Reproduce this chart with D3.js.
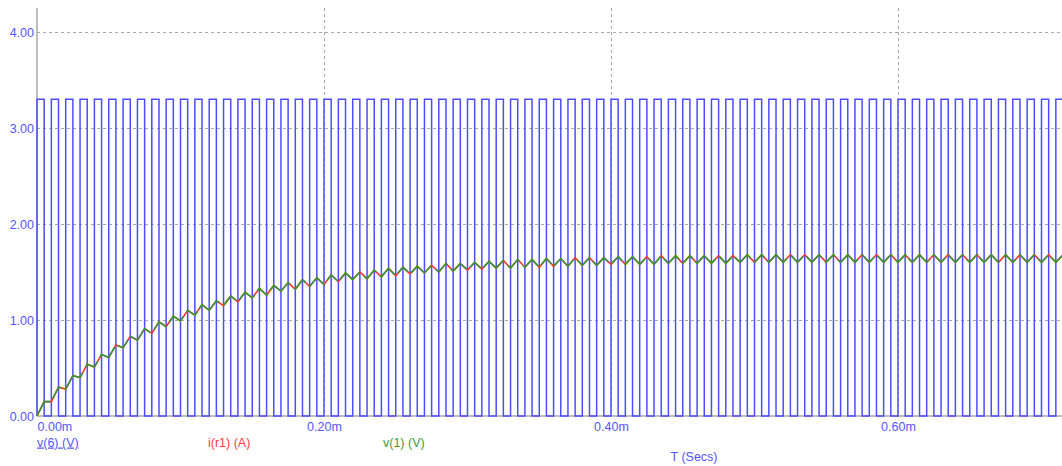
<!DOCTYPE html>
<html>
<head>
<meta charset="utf-8">
<script src="https://cdn.jsdelivr.net/npm/d3@7"></script>
<style>
  body { margin: 0; background: #fff; }
  svg text { font-family: "Liberation Sans", Arial, sans-serif; font-size: 12.5px; }
</style>
</head>
<body>
<svg id="chart" width="1062" height="466"></svg>
<script>
// Transient run: 100 kHz PWM source v(6) driving an RC filter, output node v(1), load current i(r1).
// Samples are taken at every switching instant (5 µs half-period).
const tStepMs = 0.005;

// v(6) level held during each 5 µs interval (V)
const v6 = [
  3.3, 0, 3.3, 0, 3.3, 0, 3.3, 0, 3.3, 0, 3.3, 0, 3.3, 0, 3.3, 0, 3.3, 0, 3.3, 0,
  3.3, 0, 3.3, 0, 3.3, 0, 3.3, 0, 3.3, 0, 3.3, 0, 3.3, 0, 3.3, 0, 3.3, 0, 3.3, 0,
  3.3, 0, 3.3, 0, 3.3, 0, 3.3, 0, 3.3, 0, 3.3, 0, 3.3, 0, 3.3, 0, 3.3, 0, 3.3, 0,
  3.3, 0, 3.3, 0, 3.3, 0, 3.3, 0, 3.3, 0, 3.3, 0, 3.3, 0, 3.3, 0, 3.3, 0, 3.3, 0,
  3.3, 0, 3.3, 0, 3.3, 0, 3.3, 0, 3.3, 0, 3.3, 0, 3.3, 0, 3.3, 0, 3.3, 0, 3.3, 0,
  3.3, 0, 3.3, 0, 3.3, 0, 3.3, 0, 3.3, 0, 3.3, 0, 3.3, 0, 3.3, 0, 3.3, 0, 3.3, 0,
  3.3, 0, 3.3, 0, 3.3, 0, 3.3, 0, 3.3, 0, 3.3, 0, 3.3, 0, 3.3, 0, 3.3, 0, 3.3, 0,
  3.3, 0, 3.3
];
const v6Initial = 0;

// v(1) at each switching instant (V)
const v1 = [
  0.00, 0.15, 0.15, 0.30, 0.28, 0.42, 0.40, 0.54, 0.51, 0.64,
  0.61, 0.74, 0.71, 0.83, 0.79, 0.91, 0.86, 0.98, 0.93, 1.04,
  0.99, 1.10, 1.05, 1.16, 1.10, 1.20, 1.15, 1.25, 1.19, 1.29,
  1.23, 1.33, 1.26, 1.36, 1.30, 1.39, 1.32, 1.42, 1.35, 1.44,
  1.37, 1.47, 1.40, 1.49, 1.42, 1.50, 1.43, 1.52, 1.45, 1.54,
  1.46, 1.55, 1.48, 1.56, 1.49, 1.57, 1.50, 1.59, 1.51, 1.59,
  1.52, 1.60, 1.53, 1.61, 1.54, 1.62, 1.54, 1.63, 1.55, 1.63,
  1.55, 1.64, 1.56, 1.64, 1.56, 1.65, 1.57, 1.65, 1.57, 1.65,
  1.58, 1.66, 1.58, 1.66, 1.58, 1.66, 1.58, 1.67, 1.59, 1.67,
  1.59, 1.67, 1.59, 1.67, 1.59, 1.67, 1.59, 1.67, 1.60, 1.68,
  1.60, 1.68, 1.60, 1.68, 1.60, 1.68, 1.60, 1.68, 1.60, 1.68,
  1.60, 1.68, 1.60, 1.68, 1.60, 1.68, 1.60, 1.68, 1.60, 1.68,
  1.60, 1.68, 1.60, 1.68, 1.60, 1.68, 1.60, 1.68, 1.60, 1.68,
  1.60, 1.68, 1.60, 1.68, 1.60, 1.68, 1.60, 1.68, 1.60, 1.68,
  1.60, 1.68, 1.60, 1.68
];
// 1 Ω load: the current through r1 equals the node voltage numerically (A)
const iR1 = v1.slice();

const yTicks = [0, 1, 2, 3, 4];
const xTicks = [0, 0.2, 0.4, 0.6];
const legend = [
  { text: "v(6) (V)", color: "#5555ff", underline: true },
  { text: "i(r1) (A)", color: "#ff3c3c" },
  { text: "v(1) (V)", color: "#3c9a3c" }
];
const xTitle = "T (Secs)";

const svg = d3.select("#chart");
const W = 1062;
const plotLeft = 37, plotTop = 8, plotBottom = 416;

const x = d3.scaleLinear().domain([0, 0.71429]).range([plotLeft, W]);
const y = d3.scaleLinear().domain([0, 4.25]).range([plotBottom, plotTop]);

// grid
const grid = svg.append("g").attr("stroke", "#a8a8a8").attr("stroke-width", 1)
  .attr("stroke-dasharray", "3,3");
grid.selectAll(".gy").data(yTicks.filter(d => d > 0)).join("line")
  .attr("x1", plotLeft).attr("x2", W)
  .attr("y1", d => Math.round(y(d)) + 0.5).attr("y2", d => Math.round(y(d)) + 0.5);
grid.selectAll(".gx").data(xTicks.filter(d => d > 0)).join("line")
  .attr("y1", plotTop).attr("y2", plotBottom)
  .attr("x1", d => Math.round(x(d)) + 0.5).attr("x2", d => Math.round(x(d)) + 0.5);

// axis frame
svg.append("line").attr("x1", plotLeft).attr("x2", plotLeft).attr("y1", plotTop).attr("y2", plotBottom)
  .attr("stroke", "#a8a8a8").attr("stroke-width", 1.5);
svg.append("line").attr("x1", plotLeft).attr("x2", W).attr("y1", plotBottom).attr("y2", plotBottom)
  .attr("stroke", "#a8a8a8").attr("stroke-width", 1.5);

// axis labels
const yAxis = svg.append("g").attr("transform", `translate(${plotLeft},0)`)
  .call(d3.axisLeft(y).tickValues(yTicks).tickSize(0).tickPadding(3).tickFormat(d3.format(".2f")));
yAxis.select(".domain").remove();
yAxis.selectAll("text").attr("fill", "#5555ff").style("font-size", "12.5px")
  .style("font-family", '"Liberation Sans", Arial, sans-serif');

const xAxis = svg.append("g").attr("transform", `translate(0,${plotBottom})`)
  .call(d3.axisBottom(x).tickValues(xTicks).tickSize(0).tickPadding(6)
    .tickFormat(d => d3.format(".2f")(d) + "m"));
xAxis.select(".domain").remove();
xAxis.selectAll("text").attr("fill", "#5555ff").style("font-size", "12.5px")
  .style("font-family", '"Liberation Sans", Arial, sans-serif')
  .attr("text-anchor", d => d === 0 ? "start" : "middle");

// traces, clipped to the plot area
svg.append("clipPath").attr("id", "plot-clip").append("rect")
  .attr("x", plotLeft - 2).attr("y", 0).attr("width", W - plotLeft + 2).attr("height", plotBottom + 2);
const plot = svg.append("g").attr("clip-path", "url(#plot-clip)");

const pwmPoints = [{ t: 0, v: v6Initial }]
  .concat(v6.map((v, k) => ({ t: k * tStepMs, v })))
  .concat([{ t: v6.length * tStepMs, v: v6[v6.length - 1] }]);
const stepLine = d3.line().x(d => x(d.t)).y(d => y(d.v)).curve(d3.curveStepAfter);
plot.append("path").datum(pwmPoints).attr("d", stepLine)
  .attr("fill", "none").attr("stroke", "#4d4dff").attr("stroke-width", 1.5);

const traceLine = d3.line().x((d, k) => x(k * tStepMs)).y(d => y(d));
plot.append("path").datum(iR1).attr("d", traceLine)
  .attr("fill", "none").attr("stroke", "#ff3030").attr("stroke-width", 1.6);
plot.append("path").datum(v1).attr("d", traceLine)
  .attr("fill", "none").attr("stroke", "#2f9a2f").attr("stroke-width", 1.6)
  .attr("stroke-dasharray", "22,5,15,4,29,6,18,5");

// legend
const legendX = [37, 208, 383];
legend.forEach((d, i) => {
  svg.append("text").attr("x", legendX[i]).attr("y", 446.5)
    .attr("fill", d.color).attr("text-decoration", d.underline ? "underline" : null)
    .text(d.text);
});
svg.append("text").attr("x", 694).attr("y", 461).attr("text-anchor", "middle")
  .attr("fill", "#5555ff").text(xTitle);
</script>
</body>
</html>
